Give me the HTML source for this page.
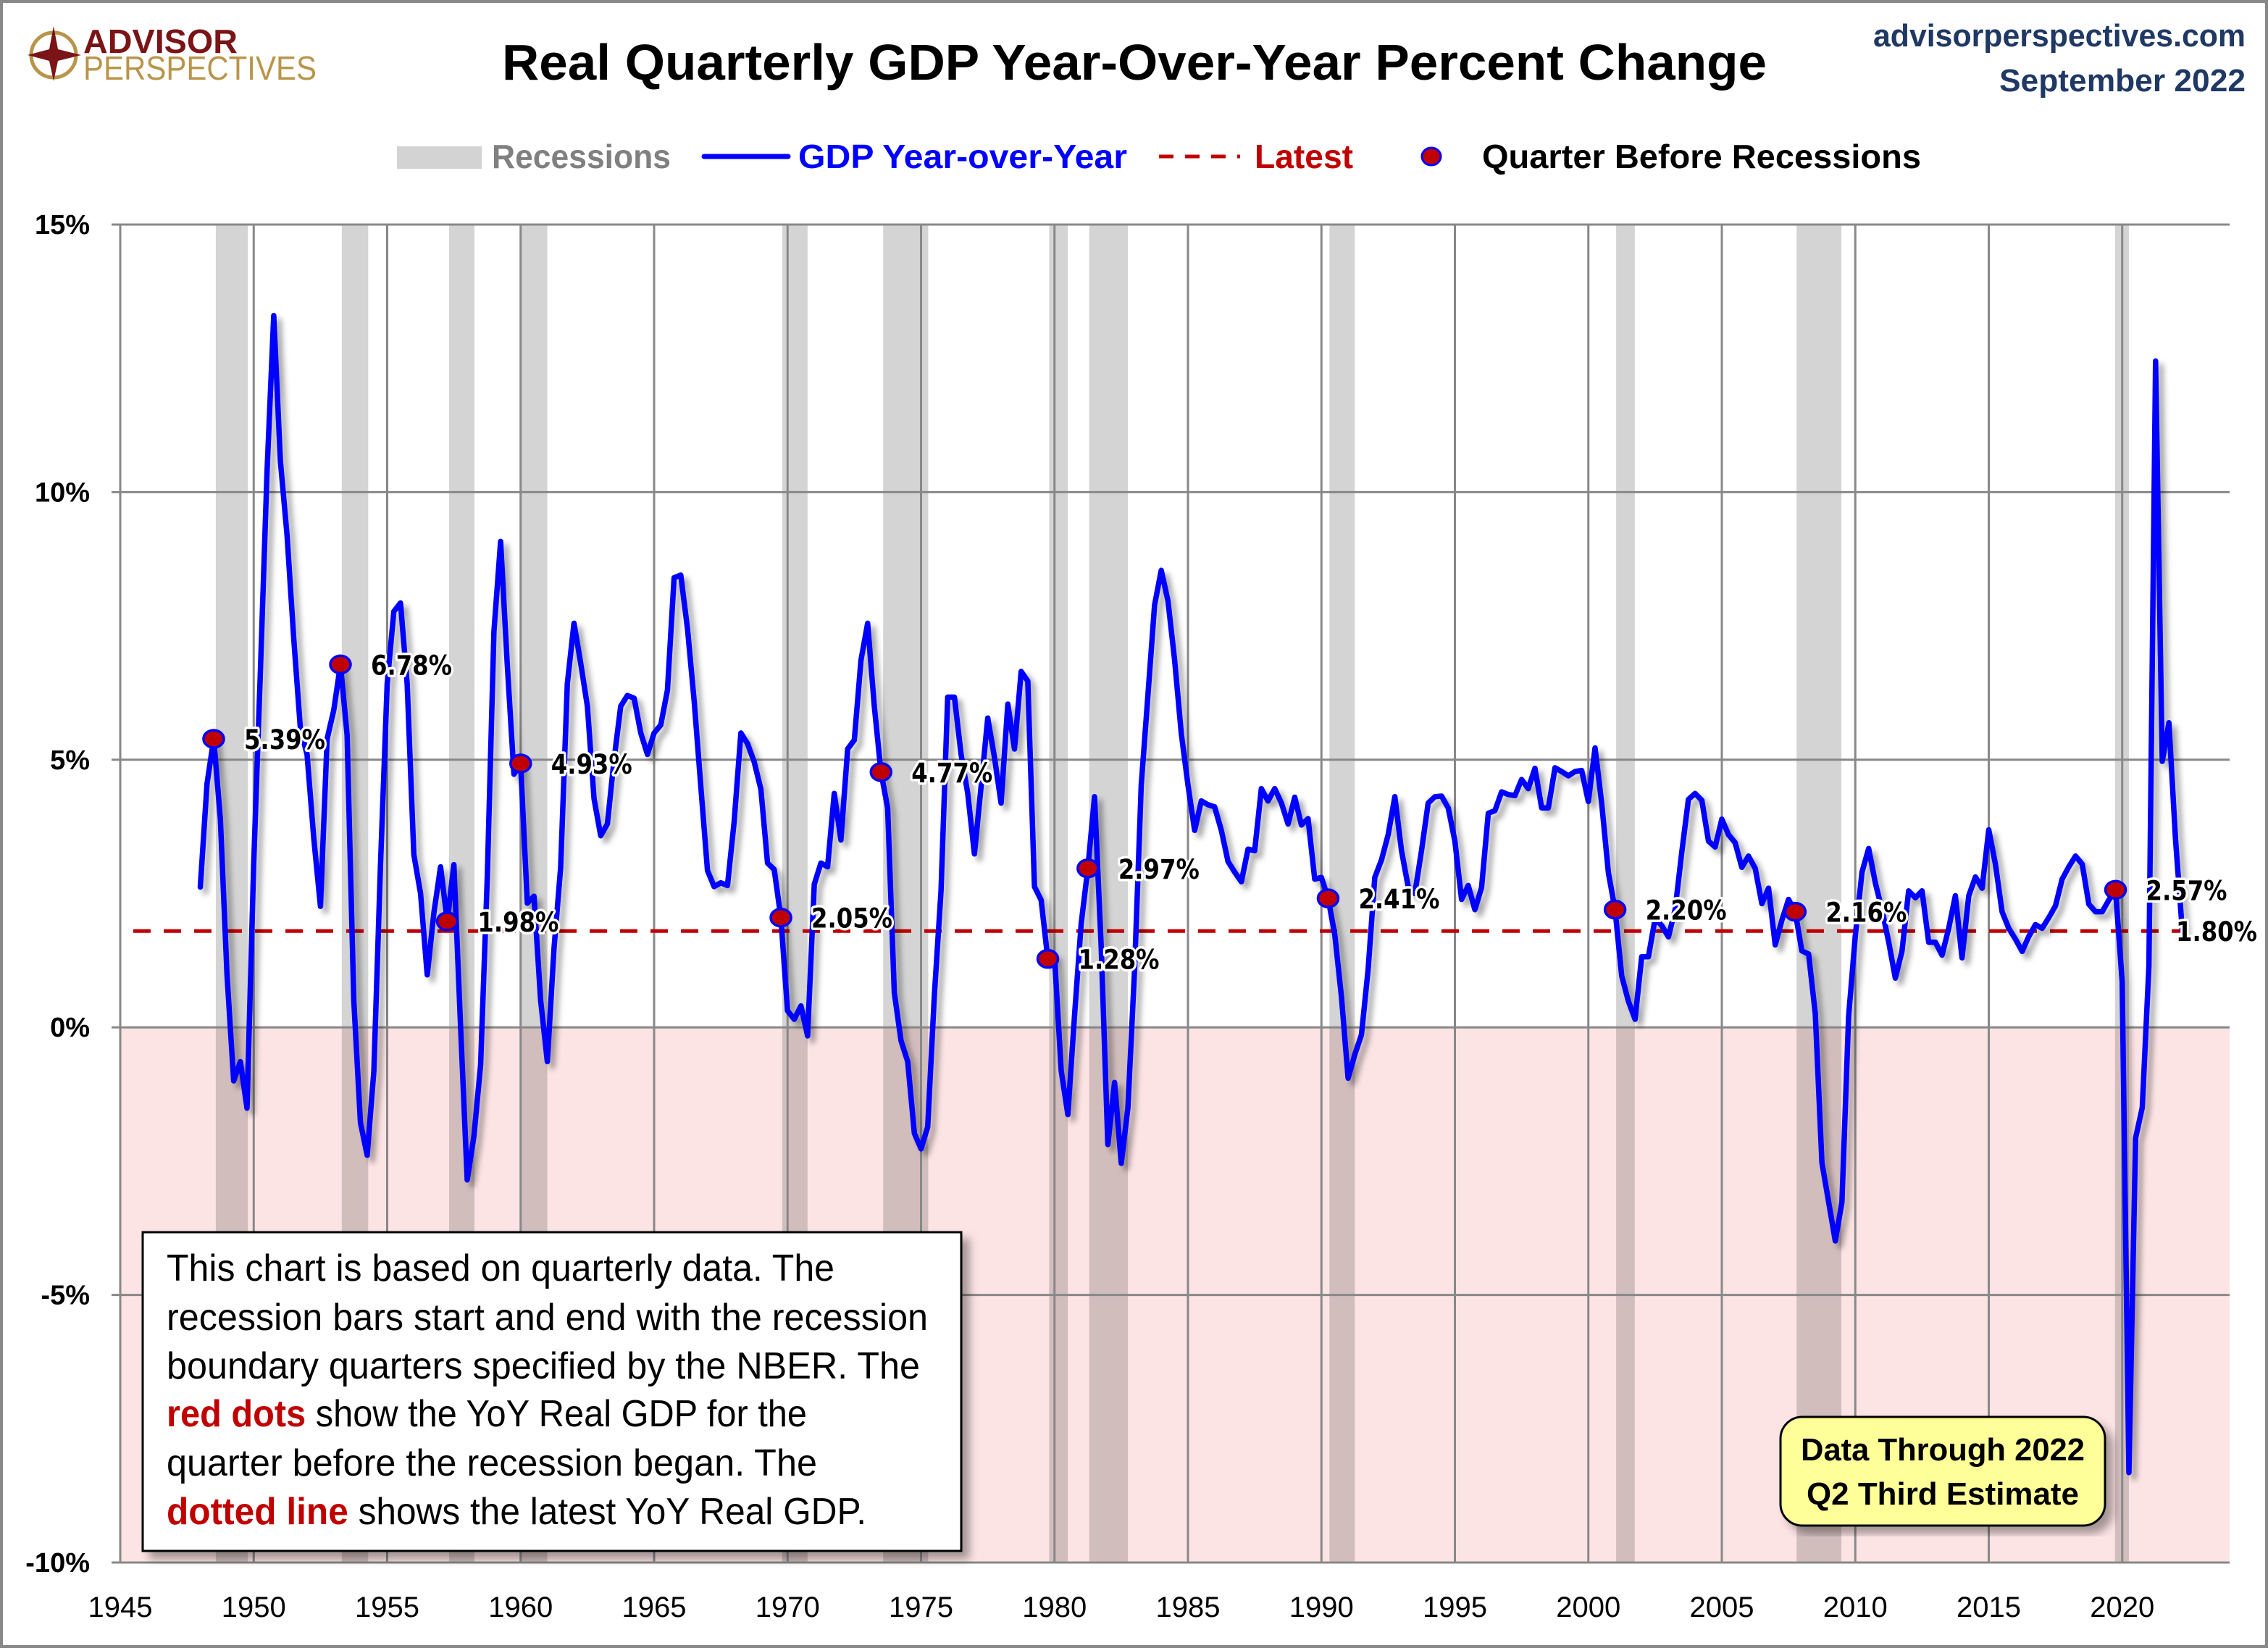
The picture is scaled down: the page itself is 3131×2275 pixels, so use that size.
<!DOCTYPE html>
<html><head><meta charset="utf-8">
<style>
html,body{margin:0;padding:0;background:#fff;}
svg{display:block;font-family:"Liberation Sans",sans-serif;}
</style></head>
<body>
<svg id="chart" width="3131" height="2275" viewBox="0 0 3131 2275" xmlns="http://www.w3.org/2000/svg">
<defs>
<filter id="shadow" x="-5%" y="-5%" width="110%" height="110%">
<feDropShadow dx="7" dy="7" stdDeviation="4" flood-color="#000" flood-opacity="0.35"/>
</filter>
<filter id="boxshadow" x="-5%" y="-5%" width="115%" height="115%">
<feDropShadow dx="10" dy="10" stdDeviation="6" flood-color="#000" flood-opacity="0.35"/>
</filter>
</defs>
<rect x="2" y="2" width="3127" height="2271" fill="#fff" stroke="#888" stroke-width="4"/>

<g>
<circle cx="74" cy="76" r="31" fill="none" stroke="#b8954a" stroke-width="5"/>
<polygon points="74,36 80,68 112,76 80,84 74,112 68,84 38,76 68,68" fill="#7a1416"/>
<text x="115" y="73" font-size="46" font-weight="bold" fill="#7a1416" textLength="213" lengthAdjust="spacingAndGlyphs">ADVISOR</text>
<text x="115" y="110" font-size="46" fill="#b8954a" textLength="322" lengthAdjust="spacingAndGlyphs">PERSPECTIVES</text>
</g>

<text x="1566" y="110" text-anchor="middle" font-size="70" font-weight="bold" fill="#000" textLength="1746" lengthAdjust="spacingAndGlyphs">Real Quarterly GDP Year-Over-Year Percent Change</text>
<text x="3100" y="64" text-anchor="end" font-size="44" font-weight="bold" fill="#1f3864" textLength="514" lengthAdjust="spacingAndGlyphs">advisorperspectives.com</text>
<text x="3100" y="126" text-anchor="end" font-size="44" font-weight="bold" fill="#1f3864" textLength="340" lengthAdjust="spacingAndGlyphs">September 2022</text>

<g>
<rect x="548" y="202" width="117" height="31" fill="#d3d3d3"/>
<text x="679" y="232" font-size="46" font-weight="bold" fill="#808080" textLength="247" lengthAdjust="spacingAndGlyphs">Recessions</text>
<line x1="972" y1="216" x2="1088" y2="216" stroke="#0000ff" stroke-width="7" stroke-linecap="round"/>
<text x="1102" y="232" font-size="46" font-weight="bold" fill="#0000ff" textLength="454" lengthAdjust="spacingAndGlyphs">GDP Year-over-Year</text>
<line x1="1600" y1="216" x2="1712" y2="216" stroke="#c00000" stroke-width="5" stroke-dasharray="20 16"/>
<text x="1732" y="232" font-size="46" font-weight="bold" fill="#c00000" textLength="136" lengthAdjust="spacingAndGlyphs">Latest</text>
<ellipse cx="1976" cy="216" rx="13" ry="12" fill="#c00000" stroke="#0000ff" stroke-width="3"/>
<text x="2046" y="232" font-size="46" font-weight="bold" fill="#000" textLength="606" lengthAdjust="spacingAndGlyphs">Quarter Before Recessions</text>
</g>

<g id="plot"></g>

<g filter="url(#boxshadow)">
<rect x="197" y="1701" width="1130" height="440" fill="#fff" stroke="#000" stroke-width="3"/>
</g>
<g font-size="52" fill="#000">
<text x="230" y="1768" textLength="922" lengthAdjust="spacingAndGlyphs">This chart is based on quarterly data. The</text>
<text x="230" y="1836" textLength="1051" lengthAdjust="spacingAndGlyphs">recession bars start and end with the recession</text>
<text x="230" y="1903" textLength="1040" lengthAdjust="spacingAndGlyphs">boundary quarters specified by the  NBER. The</text>
<text x="230" y="1969" textLength="884" lengthAdjust="spacingAndGlyphs"><tspan fill="#c00000" font-weight="bold">red dots</tspan> show the YoY Real GDP for the</text>
<text x="230" y="2037" textLength="898" lengthAdjust="spacingAndGlyphs">quarter before the recession began. The</text>
<text x="230" y="2104" textLength="966" lengthAdjust="spacingAndGlyphs"><tspan fill="#c00000" font-weight="bold">dotted line</tspan>  shows the latest YoY Real GDP.</text>
</g>

<g>
<rect x="2458" y="1956" width="448" height="150" rx="30" ry="30" fill="#ffff99" stroke="#000" stroke-width="3" filter="url(#boxshadow)"/>
<text x="2682" y="2016" text-anchor="middle" font-size="44" font-weight="bold" fill="#000" textLength="392" lengthAdjust="spacingAndGlyphs">Data Through 2022</text>
<text x="2682" y="2077" text-anchor="middle" font-size="44" font-weight="bold" fill="#000" textLength="376" lengthAdjust="spacingAndGlyphs">Q2 Third Estimate</text>
</g>
</svg>

<script>
// ---- Data ----
const startYear = 1948; // first quarter 1948Q1
const gdpYoY = [
2.62,4.55,5.39,3.9, 0.98,-1.0,-0.64,-1.51, 3.04,6.66,10.4,13.3, 10.58,9.19,7.27,5.58,
5.1,3.53,2.26,5.39, 5.93,6.78,5.46,0.51, -1.78,-2.39,-0.82,3.04, 6.42,7.77,7.93,6.42,
3.23,2.5,0.98,2.14, 3.0,1.98,3.04,0.03, -2.85,-2.03,-0.7,2.8, 7.4,9.08,6.78,4.73,
4.93,2.32,2.45,0.5, -0.64,1.47,2.99,6.42,
7.55,6.8,6.0,4.27, 3.58,3.8,5.0,6.0, 6.2,6.15,5.5,5.1, 5.5,5.65,6.3,8.4,
8.45,7.45,6.1,4.5, 2.93,2.63,2.7,2.65, 3.84,5.5,5.3,4.96, 4.45,3.07,2.95,2.05,
0.31,0.15,0.4,-0.16, 2.67,3.07,3.0,4.37, 3.5,5.2,5.37,6.86, 7.55,6.0,4.77,4.1,
0.65,-0.25,-0.64,-1.98, -2.27,-1.86,0.6,2.55, 6.17,6.17,5.1,4.37, 3.24,4.5,5.78,5.05,
4.19,6.04,5.2,6.65, 6.47,2.63,2.38,1.28, 1.35,-0.81,-1.63,0.22, 1.94,2.97,4.31,1.51,
-2.19,-1.03,-2.54,-1.5, 1.08,4.53,6.2,7.89, 8.54,7.97,6.86,5.49, 4.53,3.68,4.23,4.16,
4.12,3.68,3.1,2.9, 2.72,3.33,3.3,4.46, 4.23,4.46,4.19,3.8, 4.3,3.78,3.9,2.77,
2.8,2.41,1.73,0.57, -0.95,-0.51,-0.14,1.08, 2.8,3.13,3.6,4.31, 3.3,2.63,2.5,3.3,
4.19,4.31,
4.32,4.1, 3.48,2.39,2.65,2.2, 2.61,4.0,4.05,4.4, 4.35,4.33,4.63,4.46, 4.84,4.1,4.1,4.85,
4.78,4.7,4.78,4.8, 4.22,5.22,4.18,2.89, 2.2,0.96,0.49,0.15, 1.32,1.32,2.03,1.9,
1.69,2.2,3.27,4.26, 4.37,4.24,3.48,3.37, 3.89,3.6,3.45,2.99, 3.2,2.97,2.31,2.6,
1.54,2.0,2.39,2.16, 1.43,1.37,0.26,-2.53, -3.26,-3.99,
-3.27,0.2, 1.7,2.9,3.34,2.7, 2.2,1.6,0.92,1.42, 2.55,2.42,2.55,1.59, 1.59,1.35,1.85,2.46,
1.3,2.46,2.81,2.6, 3.69,3.05,2.16,1.85, 1.65,1.42,1.7,1.92, 1.85,2.05,2.27,2.77,
3.0,3.2,3.05,2.3, 2.16,2.16,2.38,2.57, 0.85,-8.32,-2.07,-1.5, 1.14,12.45,4.97,5.69,
3.5,1.8
];
const recStart = [1948.58,1953.3,1957.32,1960.03,1969.8,1973.58,1979.8,1981.3,1990.3,2001.04,2007.8,2019.73];
const recEnd   = [1949.78,1954.29,1958.27,1961.0,1970.75,1975.27,1980.5,1982.75,1991.25,2001.74,2009.48,2020.25];
const dotIndex = [2,21,37,48,87,102,127,133,169,212,239,287];
const dotLabels = ["5.39%","6.78%","1.98%","4.93%","2.05%","4.77%","1.28%","2.97%","2.41%","2.20%","2.16%","2.57%"];
const latestValue = 1.80;
const latestLabel = "1.80%";
const yTicks = [15,10,5,0,-5,-10];
const yTickLabels = ["15%","10%","5%","0%","-5%","-10%"];
const xTicks = [1945,1950,1955,1960,1965,1970,1975,1980,1985,1990,1995,2000,2005,2010,2015,2020];

// ---- Scales ----
const X0=166, X1=3078, Y0=310, Y1=2157;
const xMin=1945, xMax=1945+(X1-X0)/36.85, yMin=-10, yMax=15;
function xs(yr){return X0+(yr-xMin)/(xMax-xMin)*(X1-X0);}
function ys(v){return Y1-(v-yMin)/(yMax-yMin)*(Y1-Y0);}
function qYear(i){return startYear+i/4;}

const NS="http://www.w3.org/2000/svg";
const plot=document.getElementById('plot');
function mk(tag,attrs,parent){const e=document.createElementNS(NS,tag);for(const k in attrs)e.setAttribute(k,attrs[k]);(parent||plot).appendChild(e);return e;}

const neg=mk('rect',{x:X0,y:ys(0),width:X1-X0,height:Y1-ys(0),fill:'#fde4e4'});



for(let i=0;i<recStart.length;i++){
  const r=mk('rect',{x:xs(recStart[i]),y:Y0,width:xs(recEnd[i])-xs(recStart[i]),height:Y1-Y0,fill:'#000','fill-opacity':'0.17'});
  
  
}

yTicks.forEach((t,i)=>{
  const g=mk('line',{x1:X0-12,x2:X1,y1:ys(t),y2:ys(t),stroke:'#888','stroke-width':3});
  
  
  const tx=mk('text',{x:124,y:ys(t)+13,'text-anchor':'end','font-size':38,'font-weight':'bold',fill:'#000'});
  tx.textContent=yTickLabels[i];
  
  
});
xTicks.forEach(t=>{
  const g=mk('line',{x1:xs(t),x2:xs(t),y1:Y0,y2:Y1,stroke:'#888','stroke-width':3});
  
  
  const tx=mk('text',{x:xs(t),y:2232,'text-anchor':'middle','font-size':40,fill:'#000'});
  tx.textContent=t;
  
  
});

const lat=mk('line',{x1:184,x2:X1,y1:ys(latestValue),y2:ys(latestValue),stroke:'#c00000','stroke-width':5,'stroke-dasharray':'24 18'});



let d='';
gdpYoY.forEach((v,i)=>{d+=(i?'L':'M')+xs(qYear(i)).toFixed(1)+','+ys(v).toFixed(1);});
const path=mk('path',{d:d,fill:'none',stroke:'#0000ff','stroke-width':7.5,'stroke-linejoin':'round','stroke-linecap':'round',filter:'url(#shadow)'});



function label(txt,x,y,len){
  const t=mk('text',{x:x,y:y,'font-family':'"DejaVu Sans",sans-serif','font-size':37,'font-weight':'bold',fill:'#000',stroke:'#fff','stroke-width':7,'paint-order':'stroke','stroke-linejoin':'round'});
  if(len){t.setAttribute('textLength',len);t.setAttribute('lengthAdjust','spacingAndGlyphs');}
  t.textContent=txt;
  
  
}
dotIndex.forEach((qi,k)=>{
  const cx=xs(qYear(qi)), cy=ys(gdpYoY[qi]);
  const c=mk('ellipse',{cx:cx,cy:cy,rx:14,ry:12,fill:'#c00000',stroke:'#0000ff','stroke-width':3.5});
  
  
  label(dotLabels[k],cx+42,cy+14,112);
});
label(latestLabel,3004,ys(latestValue)+14,112);
</script>
</body></html>
